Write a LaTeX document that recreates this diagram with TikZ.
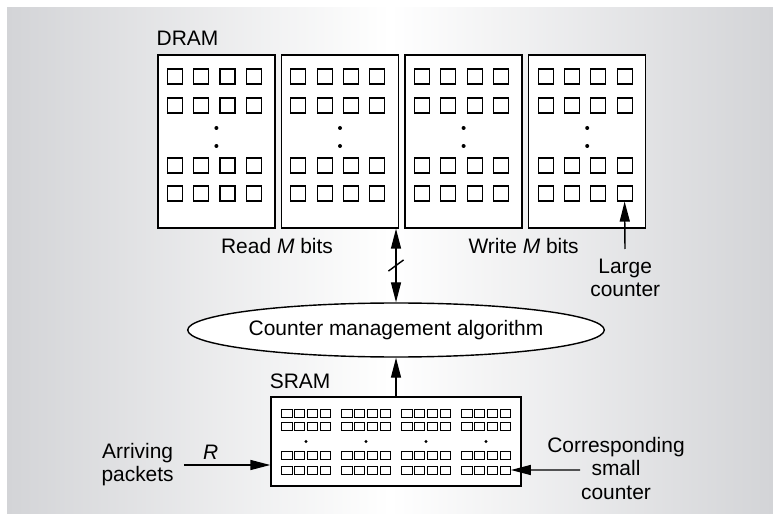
\documentclass[tikz,border=0pt]{standalone}
\usepackage{fontspec}
\setmainfont{Liberation Sans}
\usetikzlibrary{arrows.meta,shapes.geometric,positioning}
\definecolor{bggray}{RGB}{211,212,215}
\tikzset{
  dram/.style={draw,fill=white,line width=1pt,minimum width=2.925cm,minimum height=4.325cm,inner sep=0pt},
  bigcell/.style={draw,line width=0.8pt,minimum size=0.375cm,inner sep=0pt},
  sram/.style={draw,fill=white,line width=1pt,minimum width=6.25cm,minimum height=2.225cm,inner sep=0pt},
  smallcell/.style={draw,line width=0.7pt,minimum width=0.26cm,minimum height=0.2cm,inner sep=0pt},
  algo/.style={ellipse,draw,fill=white,line width=1pt,minimum width=9.875cm,minimum height=1.35cm,inner sep=0pt},
  lbl/.style={inner sep=1pt},
  >={Triangle[length=0.5cm,width=0.25cm]}
}

\begin{document}
\begin{tikzpicture}[font=\fontsize{14.9}{16.4}\selectfont, line width=1pt]
  \useasboundingbox (0,0) rectangle (19.325,12.875);
  \shade[left color=bggray,right color=bggray,middle color=white] (0.175,0.05) rectangle (19.325,12.675);

  \node[dram] (d1) at (5.41,9.3375) {};
  \node[dram] (d2) at (8.5,9.3375) {};
  \node[dram] (d3) at (11.59,9.3375) {};
  \node[dram] (d4) at (14.68,9.3375) {};
  \foreach \b in {1,...,4} {
    \foreach \r/\dy in {1/1.625,2/0.9,3/-0.6,4/-1.3}
      \foreach \k in {1,...,4}
        \node[bigcell] (d\b-\r-\k) at ([shift={({0.658*\k-1.698},\dy)}]d\b.center) {};
    \fill ([yshift=0.3375cm]d\b.center) circle (0.05);
    \fill ([yshift=-0.1125cm]d\b.center) circle (0.05);
  }
  \node[above right=0.2cm and -0.03cm of d1.north west, inner sep=0pt] (dramlbl) {DRAM};

  \node[sram] (s) at (9.9,1.8375) {};
  \node[above right=0.175cm and -0.03cm of s.north west, inner sep=0pt] (sramlbl) {SRAM};
  \foreach \g/\gx in {1/-2.25,2/-0.75,3/0.75,4/2.25} {
    \foreach \r/\dy in {1/0.71,2/0.385,3/-0.36,4/-0.7125}
      \foreach \k in {1,...,4}
        \node[smallcell] (s\g-\r-\k) at ([shift={({\gx+0.32*\k-0.8},\dy)}]s.center) {};
    \fill ([xshift=\gx cm]s.center) circle (0.04);
  }

  \node[algo] (cma) at (9.9,4.625) {Counter management algorithm};
  \draw[<->] (cma.north) -- (cma.north |- d2.south) coordinate[midway] (bus);
  \draw ([shift={(-0.19,-0.14)}]bus) -- ([shift={(0.19,0.14)}]bus);
  \draw[->] (s.north) -- (cma.south);

  \node[lbl,anchor=base] (rd) at (6.925,6.54) {Read \textit{M} bits};
  \node[lbl,anchor=base] (wr) at (13.09,6.54) {Write \textit{M} bits};
  \node[lbl,align=center,anchor=north] (lc) at (15.63,6.45) {Large\\counter};
  \draw[->,shorten <=0.2cm] (lc) -- (d4-4-4);

  \node[lbl,align=center] (ap) at (3.44,1.25) {Arriving\\packets};
  \draw[->,shorten <=0.2cm] (ap.east) -- (ap.east -| s.west) node[above,pos=0.37] {\textit{R}};

  \node[lbl,align=center] (csc) at (15.4,1.1625) {Corresponding\\small\\counter};
  \coordinate (cscin) at (14.5,1.125);
  \draw[->] (cscin) -- (s4-4-4.east);
\end{tikzpicture}
\end{document}
